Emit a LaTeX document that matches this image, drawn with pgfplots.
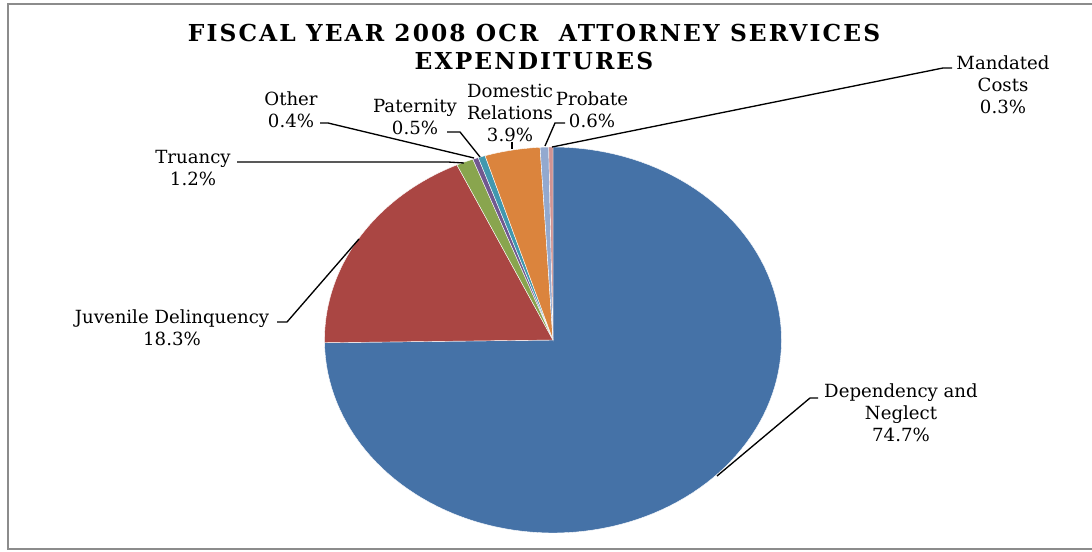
\documentclass[border=0pt]{standalone}
\usepackage{pgfplots}
\pgfplotsset{compat=1.18}
\usepackage{fontspec}
\setmainfont{DejaVu Serif}
\definecolor{cDep}{HTML}{4572A7}
\definecolor{cJuv}{HTML}{AA4643}
\definecolor{cTru}{HTML}{89A54E}
\definecolor{cOth}{HTML}{71588F}
\definecolor{cPat}{HTML}{4198AF}
\definecolor{cDom}{HTML}{DB843D}
\definecolor{cPro}{HTML}{93A9CF}
\definecolor{cMan}{HTML}{D19392}
\definecolor{frame}{HTML}{8C8C8C}
% pie geometry (pixel-like axis units)
\def\cx{553}\def\cy{211}\def\rx{228.5}\def\ry{193}
\def\pietotal{99.9}
\def\piecum{0}
\newcommand\pieslice[2]{% value, colour
  \pgfmathsetmacro\angA{90-(\piecum/\pietotal)*360}%
  \pgfmathsetmacro\newcum{\piecum+#1}%
  \pgfmathsetmacro\angB{90-(\newcum/\pietotal)*360}%
  \xdef\piecum{\newcum}%
  \edef\doslice{\noexpand\addplot[fill=#2, draw=white, line width=0.3pt, domain=\angB:\angA, samples=120]
    ({\cx+\rx*cos(x)},{\cy+\ry*sin(x)}) -- (\cx,\cy) -- cycle;}%
  \doslice
}
\tikzset{lab/.style={font=\fontsize{13.6}{16.5}\selectfont, align=center, inner sep=0pt, text=black},
  lead/.style={black, line width=1pt}}
\begin{document}
\begin{tikzpicture}
\begin{axis}[name=main, width=819pt, height=413.25pt, scale only axis,
  xmin=0, xmax=1092, ymin=0, ymax=551, hide axis, clip=false]
% data: FY2008 OCR attorney services expenditures (%), clockwise from 12 o'clock
\pieslice{74.7}{cDep}
\pieslice{18.3}{cJuv}
\pieslice{1.2}{cTru}
\pieslice{0.4}{cOth}
\pieslice{0.5}{cPat}
\pieslice{3.9}{cDom}
\pieslice{0.6}{cPro}
\pieslice{0.3}{cMan}
% frame
\draw[frame, line width=1.5pt] (1092,546.5) -- (7.5,546.5) -- (7.5,2) -- (1092,2);
% title
\node[font=\fontsize{17.5}{20.5}\selectfont\bfseries\addfontfeature{LetterSpace=9}, align=center, inner sep=0pt] at (534,504)
  {FISCAL YEAR 2008 OCR\ \ ATTORNEY SERVICES\\EXPENDITURES};
% labels
\node[lab] at (1003,466) {Mandated\\Costs\\0.3\%};
\draw[lead] (552,404) -- (943,483) -- (952,483);
\node[lab] at (592,441) {Probate\\0.6\%};
\draw[lead] (565,428) -- (555,428) -- (545,405);
\node[lab] at (510,438) {Domestic\\Relations\\3.9\%};
\draw[lead] (512,409) -- (512,402);
\node[lab] at (415,434) {Paternity\\0.5\%};
\draw[lead] (447,419) -- (460,419) -- (480,394);
\node[lab] at (291,441) {Other\\0.4\%};
\draw[lead] (320,428) -- (328,428) -- (474,393);
\node[lab] at (193,383) {Truancy\\1.2\%};
\draw[lead] (237,389) -- (448,389) -- (464,388);
\node[lab] at (172,223) {Juvenile Delinquency\\18.3\%};
\draw[lead] (277,229) -- (287,229) -- (359,312);
\node[lab] at (901,138) {Dependency and\\Neglect\\74.7\%};
\draw[lead] (818,153) -- (810,153) -- (717,75);
\end{axis}
\pgfresetboundingbox
\path (main.south west) rectangle (main.north east);
\end{tikzpicture}
\end{document}
